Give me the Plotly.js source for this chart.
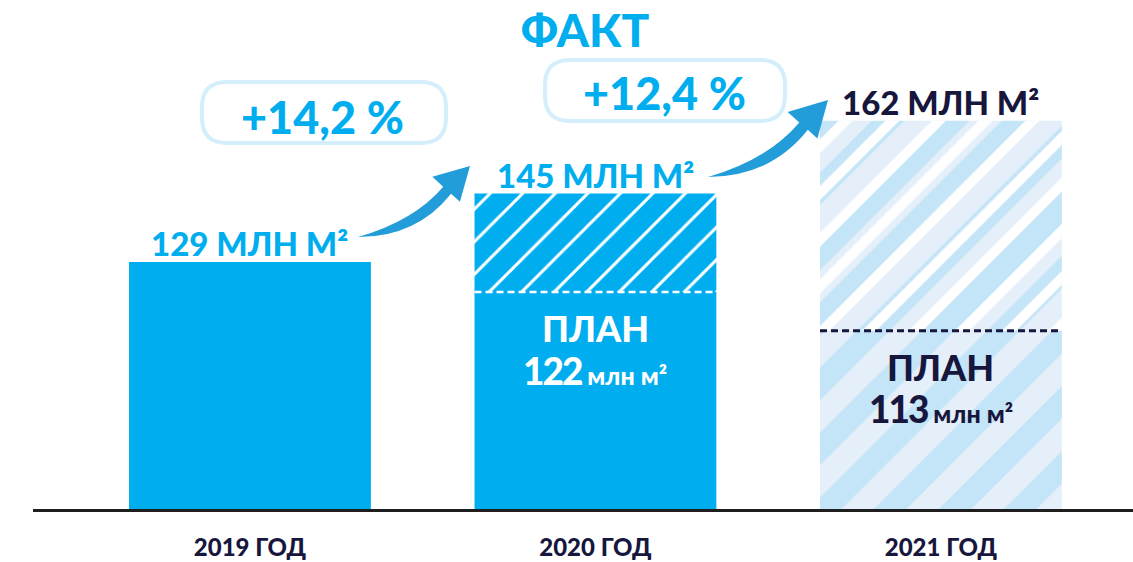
<!DOCTYPE html>
<html>
<head>
<meta charset="utf-8">
<script src="https://cdn.plot.ly/plotly-3.0.1.min.js"></script>
<style>html,body{margin:0;padding:0;background:#fff;}#chart{width:1133px;height:562px;}</style>
</head>
<body>
<div id="chart"></div>
<script>
// ---- data ----
const years = ['2019 ГОД', '2020 ГОД', '2021 ГОД'];
const fact = [129, 145, 162];
const plan = [null, 122, 113];
const factLabels = ['129 МЛН М²', '145 МЛН М²', '162 МЛН М²'];
const growth = ['+14,2 %', '+12,4 %'];
const planWord = 'ПЛАН';
const unitSmall = 'млн м²';

// ---- style ----
const FONT = 'Lato, "Open Sans", sans-serif';
const BLUE = '#00aeef';
const NAVY = '#17163d';
const ARROW = '#239dd9';
const WT = 900;
const W = 1133, H = 562, ML = 33, MB = 53, MT = 0;
const PW = W - ML, PH = H - MB - MT;
const px2x = p => (p - ML) / PW;
const py2y = p => (H - MB - p) / PH;

// ---- traces ----
const excess = fact.map((v, i) => plan[i] == null ? null : v - plan[i]);
const bw = 0.7;
const traces = [
  { type: 'bar', x: [years[0]], y: [fact[0]], width: bw,
    marker: { color: BLUE, line: { width: 0 } }, hoverinfo: 'skip' },
  { type: 'bar', x: [years[1]], y: [plan[1]], width: bw,
    marker: { color: BLUE, line: { width: 0 } }, hoverinfo: 'skip' },
  { type: 'bar', x: [years[1]], y: [excess[1]], base: [plan[1]], width: bw,
    marker: { color: BLUE, line: { width: 0 },
      pattern: { shape: '/', fgcolor: '#ffffff', bgcolor: BLUE, size: 23, solidity: 0.13, fillmode: 'replace' } },
    hoverinfo: 'skip' },
  { type: 'bar', x: [years[2]], y: [fact[2]], width: bw,
    marker: { color: '#e5eff9', line: { width: 0 },
      pattern: { shape: '/', fgcolor: '#c3e5f7', bgcolor: '#e5eff9', size: 46, solidity: 0.5, fillmode: 'replace' } },
    hoverinfo: 'skip' },
  { type: 'bar', x: [years[2]], y: [excess[2]], base: [plan[2]], width: bw,
    marker: { color: 'rgba(0,0,0,0)', line: { width: 0 },
      pattern: { shape: '/', fgcolor: '#ffffff', bgcolor: 'rgba(0,0,0,0)', size: 33, solidity: 0.3, fillmode: 'replace' } },
    hoverinfo: 'skip' }
];

// ---- helpers for decorative shapes (pixel -> paper) ----
function P(x, y) { return px2x(x).toFixed(5) + ',' + py2y(y).toFixed(5); }
function roundRect(x0, y0, x1, y1, r) {
  return 'M' + P(x0 + r, y0) + ' L' + P(x1 - r, y0) + ' Q' + P(x1, y0) + ' ' + P(x1, y0 + r) +
    ' L' + P(x1, y1 - r) + ' Q' + P(x1, y1) + ' ' + P(x1 - r, y1) +
    ' L' + P(x0 + r, y1) + ' Q' + P(x0, y1) + ' ' + P(x0, y1 - r) +
    ' L' + P(x0, y0 + r) + ' Q' + P(x0, y0) + ' ' + P(x0 + r, y0) + ' Z';
}
// curved arrow template in local (u along tail->tip, v perpendicular) coords, length 134
const tpl = { len: 134, C1: [56.9, 16.7], U: [99.9, 3.2], B1: [96.0, -11.1], Hd: [134, 0], B2: [106.1, 25.0], L: [102.9, 13.4], C2: [49.7, 31.7] };
function arrowPath(tx, ty, hx, hy) {
  const dx = hx - tx, dy = hy - ty, len = Math.hypot(dx, dy);
  const d = [dx / len, dy / len], n = [-d[1], d[0]];
  const s = len / tpl.len;
  const m = a => { const u = a[0] * s, v = a[1] * s; return P(tx + u * d[0] + v * n[0], ty + u * d[1] + v * n[1]); };
  return 'M' + P(tx, ty) + ' Q' + m(tpl.C1) + ' ' + m(tpl.U) + ' L' + m(tpl.B1) + ' L' + m(tpl.Hd) +
    ' L' + m(tpl.B2) + ' L' + m(tpl.L) + ' Q' + m(tpl.C2) + ' ' + P(tx, ty) + ' Z';
}

const shapes = [
  { type: 'path', xref: 'paper', yref: 'paper', path: roundRect(202, 82, 446, 143, 25),
    fillcolor: '#ffffff', line: { color: '#d4effb', width: 4 } },
  { type: 'path', xref: 'paper', yref: 'paper', path: roundRect(545, 60, 785, 121, 25),
    fillcolor: '#ffffff', line: { color: '#d4effb', width: 4 } },
  { type: 'path', xref: 'paper', yref: 'paper', path: arrowPath(358, 237, 470, 166),
    fillcolor: ARROW, line: { width: 0 } },
  { type: 'path', xref: 'paper', yref: 'paper', path: arrowPath(708, 177, 828, 100),
    fillcolor: ARROW, line: { width: 0 } },
  // plan markers
  { type: 'line', xref: 'x', yref: 'y', x0: 1 - bw / 2, x1: 1 + bw / 2, y0: plan[1], y1: plan[1],
    line: { color: '#ffffff', width: 2.5, dash: '7px,4px' } },
  { type: 'line', xref: 'x', yref: 'y', x0: 2 - bw / 2, x1: 2 + bw / 2, y0: plan[2], y1: plan[2],
    line: { color: NAVY, width: 3, dash: '7px,4px' } }
];

const annotations = [];
fact.forEach((v, i) => {
  annotations.push({ x: years[i], y: v, xref: 'x', yref: 'y', yanchor: 'middle', yshift: 19,
    text: factLabels[i], showarrow: false,
    font: { family: FONT, size: 33, weight: WT, color: i === 2 ? NAVY : BLUE } });
});
plan.forEach((v, i) => {
  if (v == null) return;
  const c = i === 1 ? '#ffffff' : NAVY;
  annotations.push({ x: years[i], y: v, xref: 'x', yref: 'y', yanchor: 'middle', yshift: -36,
    text: planWord, showarrow: false, font: { family: FONT, size: 36, weight: WT, color: c } });
  annotations.push({ x: years[i], y: v, xref: 'x', yref: 'y', yanchor: 'middle', yshift: -78,
    text: '<span style="font-size:37px;letter-spacing:-2px">' + v + '</span> ' + unitSmall, showarrow: false,
    font: { family: FONT, size: 25, weight: WT, color: c } });
});
const bubbleCenters = [[322, 117], [664, 93]];
growth.forEach((g, i) => {
  annotations.push({ x: px2x(bubbleCenters[i][0]), y: py2y(bubbleCenters[i][1]), xref: 'paper', yref: 'paper',
    xanchor: 'center', yanchor: 'middle', text: g, showarrow: false,
    font: { family: FONT, size: 45, weight: WT, color: BLUE } });
});

const layout = {
  width: W, height: H,
  margin: { l: ML, r: 0, t: MT, b: MB },
  paper_bgcolor: '#ffffff', plot_bgcolor: 'rgba(0,0,0,0)',
  barmode: 'overlay', showlegend: false,
  title: { text: 'ФАКТ', xref: 'container', yref: 'container', x: 585 / W, y: 1 - 31 / H,
    xanchor: 'center', yanchor: 'middle', font: { family: FONT, size: 46, weight: WT, color: BLUE } },
  xaxis: { type: 'category', range: [-0.628, 2.556], showgrid: false, zeroline: false,
    showline: true, linecolor: '#1e1e1e', linewidth: 3, ticks: '', ticklabelstandoff: 15,
    tickfont: { family: FONT, size: 24, weight: WT, color: NAVY }, fixedrange: true },
  yaxis: { range: [71.4, 190.15], visible: false, showgrid: false, zeroline: false, fixedrange: true },
  shapes: shapes, annotations: annotations
};

Plotly.newPlot('chart', traces, layout, { displayModeBar: false, staticPlot: true });
</script>
</body>
</html>
